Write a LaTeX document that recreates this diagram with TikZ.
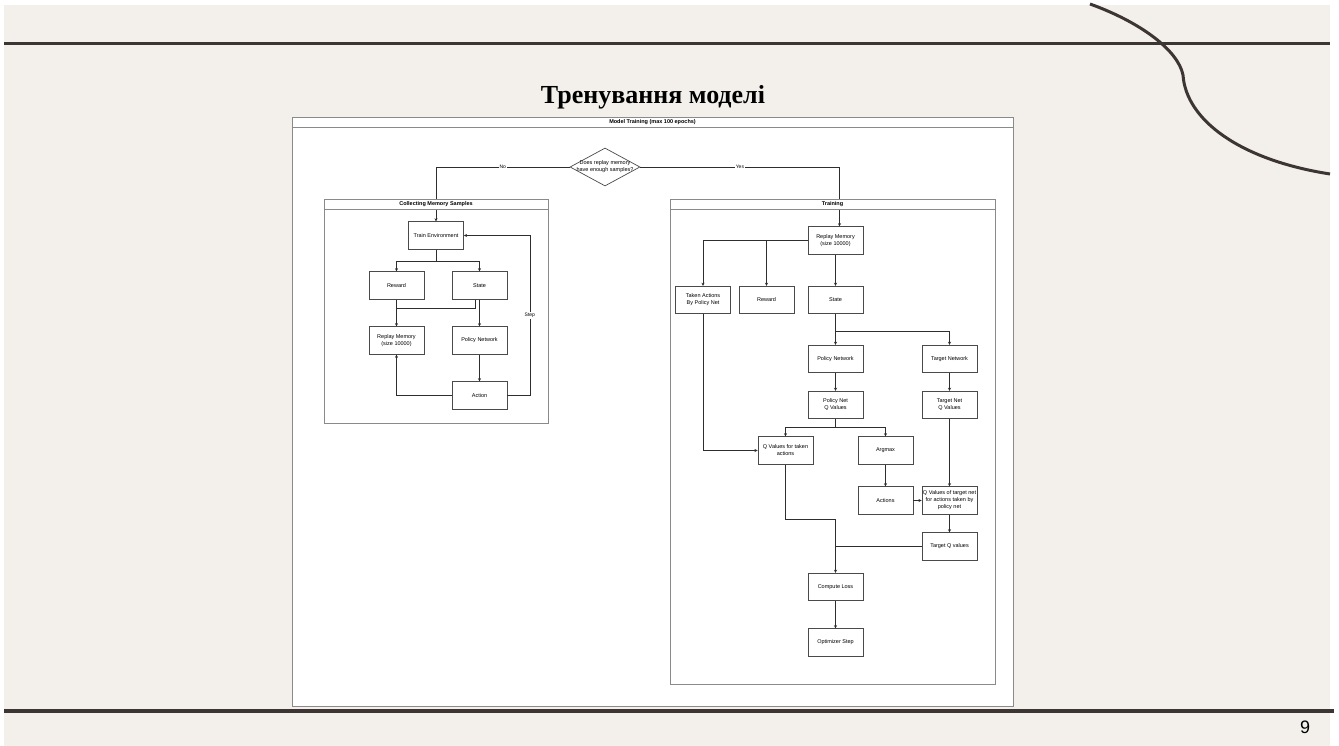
\documentclass[tikz,border=0pt]{standalone}
\usepackage{fontspec}
\setmainfont{Liberation Sans}
\newfontfamily\titlefont{Liberation Serif}
\usetikzlibrary{arrows.meta,shapes.geometric,calc}
\definecolor{beige}{HTML}{F3F0EB}
\definecolor{deco}{HTML}{3D3533}
\definecolor{nodegray}{HTML}{4A4A4A}
\definecolor{framegray}{HTML}{8A8A8A}
\definecolor{edgegray}{HTML}{2E2E2E}
\newcommand{\nodefont}{\fontsize{5.5}{7}\selectfont}
\tikzset{
  box/.style={draw=nodegray, fill=white, line width=0.7pt, minimum width=55pt, minimum height=27.5pt,
    inner sep=0.5pt, align=center, font=\nodefont},
  frame/.style={draw=framegray, fill=white, line width=0.8pt, inner sep=0pt},
  hdr/.style={draw=framegray, fill=white, line width=0.8pt, inner sep=0pt, minimum height=10pt,
    anchor=north, font=\fontsize{5.5}{6.5}\selectfont\bfseries},
  arr/.style={draw=edgegray, line width=0.6pt, -{Stealth[length=3.2pt,width=3pt]}},
  ln/.style={draw=edgegray, line width=0.6pt},
  lbl/.style={fill=white, inner sep=0.8pt, font=\fontsize{5}{6}\selectfont},
}
\begin{document}
\begin{tikzpicture}[x=1pt,y=-1pt]
\useasboundingbox (0,0) rectangle (1339,746);
\fill[white] (0,0) rectangle (1339,746);
\fill[beige] (4,5) rectangle (1330,746);
% decorations
\draw[deco, line width=3pt] (4,44) -- (1330,44);
\draw[deco, line width=3.5pt] (4,711) -- (1334,711);
\draw[deco, line width=3pt] (1090,4) .. controls (1140,22) and (1178,50) .. (1183,75)
  .. controls (1186,120) and (1240,160) .. (1330,174);
\node[font=\titlefont\fontsize{26}{30}\selectfont\bfseries] (title) at (653,97) {Тренування моделі};
\node[font=\fontsize{18}{20}\selectfont] (pnum) at (1305,727) {9};

% containers
\node[frame, minimum width=721pt, minimum height=589pt] (main) at (652.5,411.5) {};
\node[frame, minimum width=224pt, minimum height=224pt] (left) at (436,311) {};
\node[frame, minimum width=325pt, minimum height=485pt] (right) at (832.5,441.5) {};

% decision
\node[shape=diamond, draw=nodegray, fill=white, line width=0.7pt, minimum width=70pt, minimum height=38pt,
  inner sep=0pt, label={[font=\nodefont, align=center]center:Does replay memory\\have enough samples?}] (dec) at (605,167) {};

% left nodes
\node[box] (te) at (436,235.5) {Train Environment};
\node[box] (rw) at (396.5,285.5) {Reward};
\node[box] (st) at (479.5,285.5) {State};
\node[box] (rm) at (396.5,340.5) {Replay Memory\\(size 10000)};
\node[box] (pn) at (479.5,340.5) {Policy Network};
\node[box] (ac) at (479.5,395.5) {Action};

% right nodes
\node[box] (rm2) at (835.5,240.5) {Replay Memory\\(size 10000)};
\node[box] (ta) at (703,300) {Taken Actions\\By Policy Net};
\node[box] (rw2) at (766.5,300) {Reward};
\node[box] (st2) at (835.5,300) {State};
\node[box] (pn2) at (835.5,359) {Policy Network};
\node[box] (tn2) at (949.5,359) {Target Network};
\node[box] (pq) at (835.5,405) {Policy Net\\Q Values};
\node[box] (tq) at (949.5,405) {Target Net\\Q Values};
\node[box] (qt) at (785.5,450.5) {Q Values for taken\\actions};
\node[box] (am) at (885.5,450.5) {Argmax};
\node[box] (acs) at (885.5,500.5) {Actions};
\node[box] (qtn) at (949.5,500.5) {Q Values of target net\\for actions taken by\\policy net};
\node[box] (tqv) at (949.5,546.5) {Target Q values};
\node[box] (cl) at (835.5,587) {Compute Loss};
\node[box] (os) at (835.5,642.5) {Optimizer Step};

% decision edges
\coordinate (yin) at ([xshift=4pt]rm2.north);
\draw[arr] (dec.west) -- node[lbl]{No} (dec.west -| te.north) -- (te.north);
\draw[arr] (dec.east) -- node[lbl]{Yes} (dec.east -| yin) -- (yin);

% left edges
\coordinate (tesplit) at ($(te.south)+(0,11.5)$);
\draw[arr] (te.south) -- (tesplit) -| (rw.north);
\draw[arr] (tesplit) -| (st.north);
\draw[arr] (rw.south) -- (rm.north);
\coordinate (stout) at ([xshift=-4pt]st.south);
\draw[ln] (stout) -- ++(0,9) -| ($(rw.south)!0.5!(rm.north)$);
\draw[arr] (st.south) -- (pn.north);
\draw[arr] (pn.south) -- (ac.north);
\draw[arr] (ac.west) -| (rm.south);
\coordinate (stepx) at ($(ac.east)+(22.5,0)$);
\draw[arr] (ac.east) -- (stepx) |- node[lbl, pos=0.25]{Step} (te.east);

% right edges
\draw[arr] (rm2.south) -- (st2.north);
\draw[arr] (rm2.west) -| (ta.north);
\draw[arr] (rm2.west -| rw2.north) -- (rw2.north);
\coordinate (stsplit) at ($(st2.south)+(0,17.5)$);
\draw[arr] (st2.south) -- (pn2.north);
\draw[arr] (stsplit) -| (tn2.north);
\draw[arr] (pn2.south) -- (pq.north);
\draw[arr] (tn2.south) -- (tq.north);
\coordinate (pqsplit) at ($(pq.south)+(0,8.5)$);
\draw[arr] (pq.south) -- (pqsplit) -| (qt.north);
\draw[arr] (pqsplit) -| (am.north);
\draw[arr] (ta.south) |- (qt.west);
\draw[arr] (am.south) -- (acs.north);
\draw[arr] (acs.east) -- (qtn.west);
\draw[arr] (tq.south) -- (qtn.north);
\draw[arr] (qtn.south) -- (tqv.north);
\coordinate (qtdown) at ($(qt.south)+(0,55)$);
\draw[arr] (qt.south) -- (qtdown) -| (cl.north);
\draw[ln] (tqv.west) -- (tqv.west -| cl.north);
\draw[arr] (cl.south) -- (os.north);

% headers
\node[hdr, minimum width=721pt] (mainhdr) at (main.north) {Model Training (max 100 epochs)};
\node[hdr, minimum width=224pt] (lefthdr) at (left.north) {Collecting Memory Samples};
\node[hdr, minimum width=325pt] (righthdr) at (right.north) {Training};
\end{tikzpicture}
\end{document}
